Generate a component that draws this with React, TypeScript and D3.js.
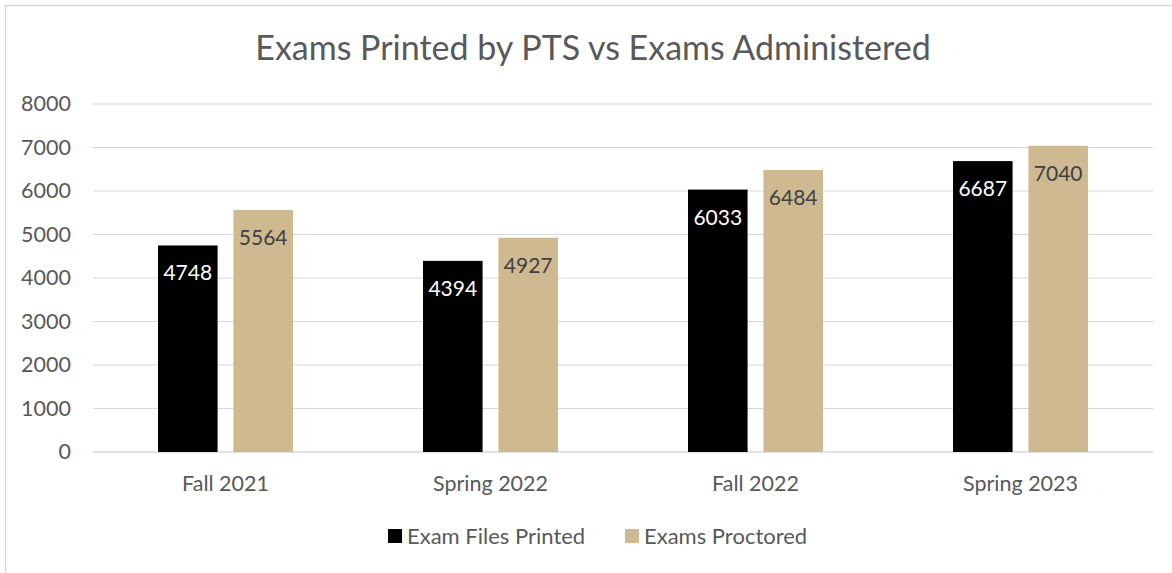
import React from "react";
import * as d3 from "d3";

const categories = ["Fall 2021", "Spring 2022", "Fall 2022", "Spring 2023"];
const seriesNames = ["Exam Files Printed", "Exams Proctored"];
const printed = [4748, 4394, 6033, 6687];
const proctored = [5564, 4927, 6484, 7040];
const yTicks = [0, 1000, 2000, 3000, 4000, 5000, 6000, 7000, 8000];
const colors = ["#000000", "#CFB991"];
const labelColors = ["#ffffff", "#404040"];

const W = 1172;
const H = 573;
const FONT = "Lato, 'Open Sans', sans-serif";

export default function App() {
  const x = d3.scaleBand<string>().domain(categories).range([93, 1153]).paddingInner(0).paddingOuter(0);
  const y = d3.scaleLinear().domain([0, 8000]).range([452, 104]);
  const series = [printed, proctored];
  const groupW = 135;
  const x1 = d3.scaleBand<number>().domain([0, 1]).range([0, groupW]).paddingInner(0.21);

  return (
    <svg width={W} height={H} style={{ position: "absolute", left: 0, top: 0, background: "#fff" }}>
      <rect x={5.5} y={5.5} width={1170} height={600} fill="#fff" stroke="#d9d9d9" strokeWidth={1.5} />
      <text x={593} y={60} textAnchor="middle" fontFamily={FONT} fontSize={34} fill="#595959">
        Exams Printed by PTS vs Exams Administered
      </text>
      {yTicks.map((t) => (
        <g key={t}>
          <line x1={93} x2={1153} y1={y(t)} y2={y(t)} stroke="#d9d9d9" strokeWidth={t === 0 ? 1.5 : 1.2} />
          <text x={71} y={y(t) + 7} textAnchor="end" fontFamily={FONT} fontSize={21.5} fill="#595959">
            {t}
          </text>
        </g>
      ))}
      {categories.map((c, i) => {
        const gx = (x(c) as number) + x.bandwidth() / 2 - groupW / 2;
        return (
          <g key={c}>
            {series.map((s, si) => {
              const bx = gx + (x1(si) as number);
              const bw = x1.bandwidth();
              return (
                <g key={si}>
                  <rect x={bx} y={y(s[i])} width={bw} height={y(0) - y(s[i])} fill={colors[si]} />
                  <text
                    x={bx + bw / 2}
                    y={y(s[i]) + 35}
                    textAnchor="middle"
                    fontFamily={FONT}
                    fontSize={21}
                    fill={labelColors[si]}
                  >
                    {s[i]}
                  </text>
                </g>
              );
            })}
            <text
              x={(x(c) as number) + x.bandwidth() / 2}
              y={491}
              textAnchor="middle"
              fontFamily={FONT}
              fontSize={21.5}
              fill="#595959"
            >
              {c}
            </text>
          </g>
        );
      })}
      {seriesNames.map((n, i) => {
        const lx = i === 0 ? 388 : 625;
        return (
          <g key={n}>
            <rect x={lx} y={529} width={14} height={14} fill={colors[i]} />
            <text x={lx + 19} y={543.5} fontFamily={FONT} fontSize={22} fill="#595959">
              {n}
            </text>
          </g>
        );
      })}
    </svg>
  );
}
